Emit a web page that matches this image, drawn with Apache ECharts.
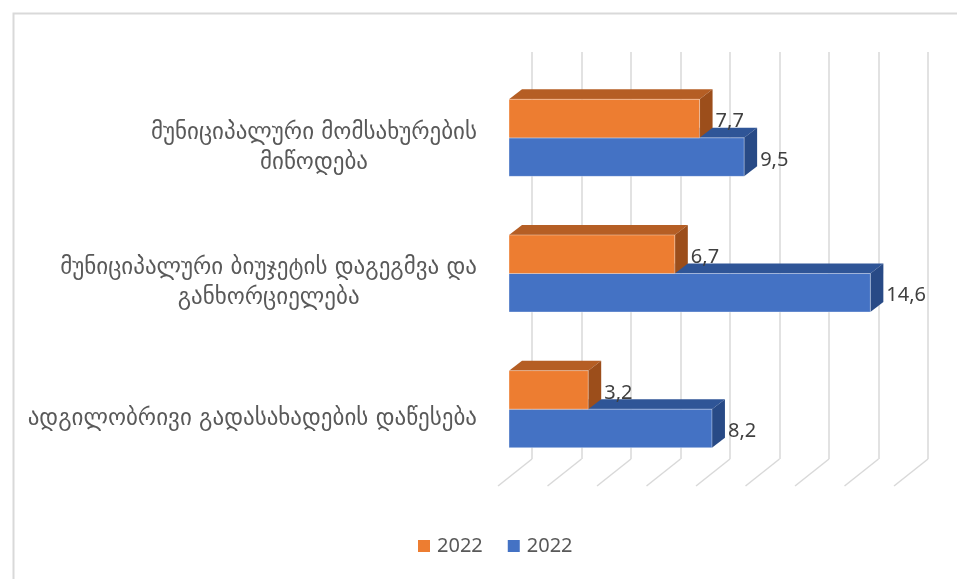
<!DOCTYPE html>
<html>
<head>
<meta charset="utf-8">
<script src="https://cdn.jsdelivr.net/npm/echarts@6/dist/echarts.min.js"></script>
<style>
  html, body { margin: 0; padding: 0; background: #ffffff; }
  #chart { width: 957px; height: 579px; }
</style>
</head>
<body>
<div id="chart"></div>
<script>
// Categories (top to bottom) and the two 2022 series
const categories = [
  'მუნიციპალური მომსახურების\nმიწოდება',
  'მუნიციპალური ბიუჯეტის დაგეგმვა და\nგანხორციელება',
  'ადგილობრივი გადასახადების დაწესება'
];
const valuesOrange = [7.7, 6.7, 3.2];
const valuesBlue = [9.5, 14.6, 8.2];
const legendLabels = ['2022', '2022'];
const axisTicks = [0, 2, 4, 6, 8, 10, 12, 14, 16];

// Faux-3D geometry and colours
const BAR_DEPTH = [13, -10];     // offset of a bar's back edges
const FLOOR_DEPTH = [-34, 27];   // floor line running toward the viewer
const BAR_FRAC = 0.284;          // bar thickness as a share of the category band
const palette = {
  orange: { front: '#ED7D31', top: '#B55E24', side: '#9C4E1B' },
  blue:   { front: '#4472C4', top: '#2F5597', side: '#284A86' }
};
const fmt = v => String(v).replace('.', ',');

function barRenderer(colors, above) {
  return function (params, api) {
    const idx = api.value(1);
    const v = api.value(0);
    const p0 = api.coord([0, idx]);
    const p1 = api.coord([v, idx]);
    const band = api.size([0, 1])[1];
    const h = band * BAR_FRAC;
    const y0 = above ? p0[1] - h : p0[1];
    const x0 = p0[0], x1 = p1[0];
    const dx = BAR_DEPTH[0], dy = BAR_DEPTH[1];
    return {
      type: 'group',
      children: [
        { type: 'polygon', shape: { points: [[x0, y0], [x0 + dx, y0 + dy], [x1 + dx, y0 + dy], [x1, y0]] },
          style: { fill: colors.top } },
        { type: 'polygon', shape: { points: [[x1, y0], [x1 + dx, y0 + dy], [x1 + dx, y0 + dy + h], [x1, y0 + h]] },
          style: { fill: colors.side } },
        { type: 'rect', shape: { x: x0, y: y0, width: x1 - x0, height: h },
          style: { fill: colors.front, stroke: 'rgba(255,255,255,0.35)', lineWidth: 1 } },
        { type: 'text', x: x1 + dx + 3, y: y0 + h / 2 + 3,
          style: { text: fmt(v), fill: '#404040', font: '20px "Noto Sans", sans-serif',
                   align: 'left', verticalAlign: 'middle' } }
      ]
    };
  };
}

function floorRenderer(params, api) {
  const p = api.coord([api.value(0), 0]);
  return {
    type: 'line',
    shape: { x1: p[0], y1: p[1], x2: p[0] + FLOOR_DEPTH[0], y2: p[1] + FLOOR_DEPTH[1] },
    style: { stroke: '#d9d9d9', lineWidth: 1.5 }
  };
}

const chart = echarts.init(document.getElementById('chart'), null, { renderer: 'canvas' });

chart.setOption({
  backgroundColor: '#ffffff',
  animation: false,
  graphic: [{
    type: 'rect', left: 11, top: 11, silent: true,
    shape: { width: 1000, height: 620 },
    style: { fill: 'none', stroke: '#d9d9d9', lineWidth: 2 }
  }],
  legend: {
    data: ['orange', 'blue'],
    formatter: name => legendLabels[name === 'orange' ? 0 : 1],
    left: 418, top: 534, padding: 0,
    icon: 'rect', itemWidth: 12, itemHeight: 12, itemGap: 25,
    textStyle: { fontFamily: '"Noto Sans", sans-serif', fontSize: 20, color: '#595959', lineHeight: 24, padding: [0, 0, 0, 2] }
  },
  grid: [
    // front plane of the bars
    { left: 509, right: 52, top: 70, bottom: 102 },
    // back wall carrying the gridlines
    { left: 532, right: 29, top: 52, bottom: 120 },
    // front edge of the floor where the category names sit
    { left: 498, right: 63, top: 80, bottom: 92 }
  ],
  xAxis: [
    { gridIndex: 0, type: 'value', min: 0, max: 16, interval: 2, show: false },
    { gridIndex: 1, type: 'value', min: 0, max: 16, interval: 2,
      axisLine: { show: false }, axisTick: { show: false }, axisLabel: { show: false },
      splitLine: { show: true, lineStyle: { color: '#d9d9d9', width: 1.5 } } },
    { gridIndex: 2, type: 'value', min: 0, max: 16, show: false }
  ],
  yAxis: [
    { gridIndex: 0, type: 'category', data: categories, inverse: true, show: false },
    { gridIndex: 1, type: 'value', min: 0, max: 1, show: false },
    { gridIndex: 2, type: 'category', data: categories, inverse: true,
      axisLine: { show: false }, axisTick: { show: false }, splitLine: { show: false },
      axisLabel: {
        margin: 21, align: 'right',
        formatter: v => v.split('\n').map(l => '{c|' + l + '}').join('\n'),
        rich: { c: { align: 'center', fontFamily: '"DejaVu Sans", sans-serif', fontSize: 23, color: '#595959', lineHeight: 30 } }
      } }
  ],
  series: [
    {
      name: 'floor', type: 'custom', xAxisIndex: 1, yAxisIndex: 1, silent: true,
      data: axisTicks.map(t => [t]), encode: { x: 0 },
      renderItem: floorRenderer, z: 1
    },
    {
      name: 'blue', type: 'custom', xAxisIndex: 0, yAxisIndex: 0,
      itemStyle: { color: palette.blue.front },
      data: valuesBlue.map((v, i) => [v, i]), encode: { x: 0, y: 1 },
      renderItem: barRenderer(palette.blue, false), z: 2
    },
    {
      name: 'orange', type: 'custom', xAxisIndex: 0, yAxisIndex: 0,
      itemStyle: { color: palette.orange.front },
      data: valuesOrange.map((v, i) => [v, i]), encode: { x: 0, y: 1 },
      renderItem: barRenderer(palette.orange, true), z: 3
    }
  ]
});
</script>
</body>
</html>
